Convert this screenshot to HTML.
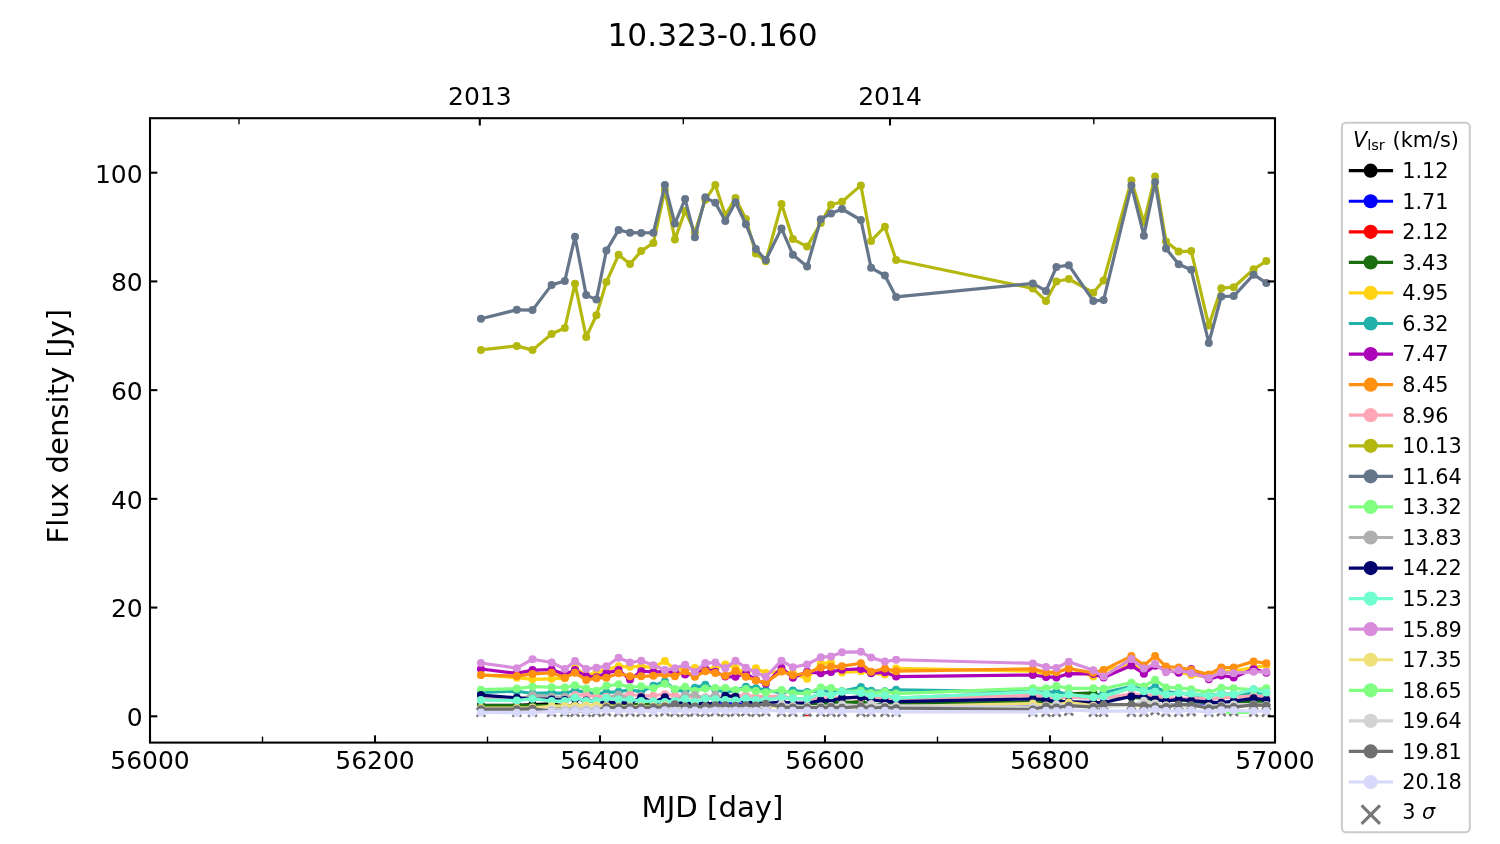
<!DOCTYPE html>
<html lang="en"><head><meta charset="utf-8"><title>10.323-0.160</title>
<style>html,body{margin:0;padding:0;background:#fff;}body{width:1500px;height:844px;overflow:hidden;}svg{display:block;}text{font-family:"DejaVu Sans","Liberation Sans",sans-serif;fill:#000;}.tk{font-size:25px;}.lb{font-size:29.17px;}.tt{font-size:31.25px;}.lg{font-size:20.83px;}</style></head><body>
<svg width="1500" height="844" viewBox="0 0 1500 844">
<rect x="0" y="0" width="1500" height="844" fill="#ffffff"/>
<defs><clipPath id="axclip"><rect x="150.0" y="118.2" width="1125.0" height="624.4"/></clipPath></defs>
<g clip-path="url(#axclip)">
<line x1="803.6" y1="715.5" x2="810.8" y2="715.5" stroke="#ff0000" stroke-width="1.3"/>
<path d="M476.65 708.00L485.25 716.60M476.65 716.60L485.25 708.00M512.50 708.00L521.10 716.60M512.50 716.60L521.10 708.00M528.20 708.00L536.80 716.60M528.20 716.60L536.80 708.00M547.30 708.00L555.90 716.60M547.30 716.60L555.90 708.00M560.50 708.00L569.10 716.60M560.50 716.60L569.10 708.00M570.70 707.96L579.30 716.56M570.70 716.56L579.30 707.96M581.90 708.00L590.50 716.60M581.90 716.60L590.50 708.00M592.10 707.96L600.70 716.56M592.10 716.56L600.70 707.96M602.10 707.42L610.70 716.02M602.10 716.02L610.70 707.42M614.30 707.96L622.90 716.56M614.30 716.56L622.90 707.96M625.70 707.69L634.30 716.29M625.70 716.29L634.30 707.69M636.90 707.96L645.50 716.56M636.90 716.56L645.50 707.96M649.10 708.00L657.70 716.60M649.10 716.60L657.70 708.00M660.60 707.42L669.20 716.02M660.60 716.02L669.20 707.42M670.60 707.96L679.20 716.56M670.60 716.56L679.20 707.96M680.80 707.96L689.40 716.56M680.80 716.56L689.40 707.96M690.60 707.69L699.20 716.29M690.60 716.29L699.20 707.69M701.00 707.96L709.60 716.56M701.00 716.56L709.60 707.96M711.00 707.53L719.60 716.13M711.00 716.13L719.60 707.53M721.00 707.96L729.60 716.56M721.00 716.56L729.60 707.96M731.20 707.69L739.80 716.29M731.20 716.29L739.80 707.69M741.60 707.53L750.20 716.13M741.60 716.13L750.20 707.53M751.60 707.96L760.20 716.56M751.60 716.56L760.20 707.96M761.50 707.53L770.10 716.13M761.50 716.13L770.10 707.53M777.20 707.96L785.80 716.56M777.20 716.56L785.80 707.96M788.60 707.96L797.20 716.56M788.60 716.56L797.20 707.96M802.80 707.69L811.40 716.29M802.80 716.29L811.40 707.69M816.50 708.00L825.10 716.60M816.50 716.60L825.10 708.00M826.70 707.96L835.30 716.56M826.70 716.56L835.30 707.96M837.70 708.00L846.30 716.60M837.70 716.60L846.30 708.00M856.60 707.96L865.20 716.56M856.60 716.56L865.20 707.96M866.80 708.00L875.40 716.60M866.80 716.60L875.40 708.00M880.60 707.96L889.20 716.56M880.60 716.56L889.20 707.96M891.80 708.00L900.40 716.60M891.80 716.60L900.40 708.00M1028.50 708.00L1037.10 716.60M1028.50 716.60L1037.10 708.00M1041.70 707.96L1050.30 716.56M1041.70 716.56L1050.30 707.96M1052.10 708.00L1060.70 716.60M1052.10 716.60L1060.70 708.00M1064.50 706.88L1073.10 715.48M1064.50 715.48L1073.10 706.88M1089.00 708.00L1097.60 716.60M1089.00 716.60L1097.60 708.00M1099.30 708.00L1107.90 716.60M1099.30 716.60L1107.90 708.00M1127.10 707.96L1135.70 716.56M1127.10 716.56L1135.70 707.96M1139.60 708.00L1148.20 716.60M1139.60 716.60L1148.20 708.00M1150.80 706.33L1159.40 714.93M1150.80 714.93L1159.40 706.33M1161.70 707.96L1170.30 716.56M1161.70 716.56L1170.30 707.96M1174.40 708.00L1183.00 716.60M1174.40 716.60L1183.00 708.00M1186.90 707.42L1195.50 716.02M1186.90 716.02L1195.50 707.42M1204.50 708.00L1213.10 716.60M1204.50 716.60L1213.10 708.00M1217.00 707.42L1225.60 716.02M1217.00 716.02L1225.60 707.42M1229.40 707.42L1238.00 716.02M1229.40 716.02L1238.00 707.42M1249.30 708.00L1257.90 716.60M1249.30 716.60L1257.90 708.00M1262.00 708.00L1270.60 716.60M1262.00 716.60L1270.60 708.00" stroke="#777777" stroke-width="2.6" fill="none" stroke-linecap="butt"/>
<g stroke="#000000" fill="#000000">
<polyline points="480.95,705.43 516.80,705.43 532.50,704.61 551.60,703.80 564.80,705.97 575.00,705.97 586.20,705.97 596.40,705.97 606.40,705.97 618.60,705.43 630.00,705.43 641.20,705.97 653.40,705.97 664.90,705.97 674.90,705.97 685.10,705.97 694.90,705.97 705.30,705.97 715.30,705.97 725.30,705.97 735.50,705.97 745.90,705.97 755.90,705.97 765.80,705.97 781.50,705.97 792.90,705.97 807.10,705.65 820.80,704.50 831.00,704.34 842.00,703.80 860.90,701.62 871.10,704.88 884.90,705.43 896.10,705.43 1032.80,705.43 1046.00,705.43 1056.40,705.43 1068.80,705.43 1093.30,705.43 1103.60,705.43 1131.40,705.43 1143.90,705.43 1155.10,705.43 1166.00,705.43 1178.70,705.43 1191.20,705.43 1208.80,705.43 1221.30,705.43 1233.70,705.43 1253.60,705.43 1266.30,705.43" fill="none" stroke-width="3.2" stroke-linejoin="round" stroke-linecap="butt"/>
<g stroke="none"><circle cx="480.95" cy="705.43" r="4.0"/><circle cx="516.80" cy="705.43" r="4.0"/><circle cx="532.50" cy="704.61" r="4.0"/><circle cx="551.60" cy="703.80" r="4.0"/><circle cx="564.80" cy="705.97" r="4.0"/><circle cx="575.00" cy="705.97" r="4.0"/><circle cx="586.20" cy="705.97" r="4.0"/><circle cx="596.40" cy="705.97" r="4.0"/><circle cx="606.40" cy="705.97" r="4.0"/><circle cx="618.60" cy="705.43" r="4.0"/><circle cx="630.00" cy="705.43" r="4.0"/><circle cx="641.20" cy="705.97" r="4.0"/><circle cx="653.40" cy="705.97" r="4.0"/><circle cx="664.90" cy="705.97" r="4.0"/><circle cx="674.90" cy="705.97" r="4.0"/><circle cx="685.10" cy="705.97" r="4.0"/><circle cx="694.90" cy="705.97" r="4.0"/><circle cx="705.30" cy="705.97" r="4.0"/><circle cx="715.30" cy="705.97" r="4.0"/><circle cx="725.30" cy="705.97" r="4.0"/><circle cx="735.50" cy="705.97" r="4.0"/><circle cx="745.90" cy="705.97" r="4.0"/><circle cx="755.90" cy="705.97" r="4.0"/><circle cx="765.80" cy="705.97" r="4.0"/><circle cx="781.50" cy="705.97" r="4.0"/><circle cx="792.90" cy="705.97" r="4.0"/><circle cx="807.10" cy="705.65" r="4.0"/><circle cx="820.80" cy="704.50" r="4.0"/><circle cx="831.00" cy="704.34" r="4.0"/><circle cx="842.00" cy="703.80" r="4.0"/><circle cx="860.90" cy="701.62" r="4.0"/><circle cx="871.10" cy="704.88" r="4.0"/><circle cx="884.90" cy="705.43" r="4.0"/><circle cx="896.10" cy="705.43" r="4.0"/><circle cx="1032.80" cy="705.43" r="4.0"/><circle cx="1046.00" cy="705.43" r="4.0"/><circle cx="1056.40" cy="705.43" r="4.0"/><circle cx="1068.80" cy="705.43" r="4.0"/><circle cx="1093.30" cy="705.43" r="4.0"/><circle cx="1103.60" cy="705.43" r="4.0"/><circle cx="1131.40" cy="705.43" r="4.0"/><circle cx="1143.90" cy="705.43" r="4.0"/><circle cx="1155.10" cy="705.43" r="4.0"/><circle cx="1166.00" cy="705.43" r="4.0"/><circle cx="1178.70" cy="705.43" r="4.0"/><circle cx="1191.20" cy="705.43" r="4.0"/><circle cx="1208.80" cy="705.43" r="4.0"/><circle cx="1221.30" cy="705.43" r="4.0"/><circle cx="1233.70" cy="705.43" r="4.0"/><circle cx="1253.60" cy="705.43" r="4.0"/><circle cx="1266.30" cy="705.43" r="4.0"/></g>
</g>
<g stroke="#0000ff" fill="#0000ff">
<polyline points="480.95,706.52 516.80,706.52 532.50,706.52 551.60,706.52 564.80,706.52 575.00,706.52 586.20,706.52 596.40,706.52 606.40,706.52 618.60,705.43 630.00,705.43 641.20,704.88 653.40,705.43 664.90,704.88 674.90,705.43 685.10,705.43 694.90,705.43 705.30,704.34 715.30,703.80 725.30,703.80 735.50,703.80 745.90,704.34 755.90,705.43 765.80,705.43 781.50,705.43 792.90,705.43 807.10,705.43 820.80,705.43 831.00,705.43 842.00,705.43 860.90,705.43 871.10,705.43 884.90,705.43 896.10,705.43 1032.80,705.43 1046.00,705.43 1056.40,705.43 1068.80,705.43 1093.30,705.43 1103.60,705.43 1131.40,705.43 1143.90,705.43 1155.10,705.43 1166.00,705.43 1178.70,705.43 1191.20,705.43 1208.80,705.43 1221.30,705.43 1233.70,705.43 1253.60,705.43 1266.30,705.43" fill="none" stroke-width="3.2" stroke-linejoin="round" stroke-linecap="butt"/>
<g stroke="none"><circle cx="480.95" cy="706.52" r="4.0"/><circle cx="516.80" cy="706.52" r="4.0"/><circle cx="532.50" cy="706.52" r="4.0"/><circle cx="551.60" cy="706.52" r="4.0"/><circle cx="564.80" cy="706.52" r="4.0"/><circle cx="575.00" cy="706.52" r="4.0"/><circle cx="586.20" cy="706.52" r="4.0"/><circle cx="596.40" cy="706.52" r="4.0"/><circle cx="606.40" cy="706.52" r="4.0"/><circle cx="618.60" cy="705.43" r="4.0"/><circle cx="630.00" cy="705.43" r="4.0"/><circle cx="641.20" cy="704.88" r="4.0"/><circle cx="653.40" cy="705.43" r="4.0"/><circle cx="664.90" cy="704.88" r="4.0"/><circle cx="674.90" cy="705.43" r="4.0"/><circle cx="685.10" cy="705.43" r="4.0"/><circle cx="694.90" cy="705.43" r="4.0"/><circle cx="705.30" cy="704.34" r="4.0"/><circle cx="715.30" cy="703.80" r="4.0"/><circle cx="725.30" cy="703.80" r="4.0"/><circle cx="735.50" cy="703.80" r="4.0"/><circle cx="745.90" cy="704.34" r="4.0"/><circle cx="755.90" cy="705.43" r="4.0"/><circle cx="765.80" cy="705.43" r="4.0"/><circle cx="781.50" cy="705.43" r="4.0"/><circle cx="792.90" cy="705.43" r="4.0"/><circle cx="807.10" cy="705.43" r="4.0"/><circle cx="820.80" cy="705.43" r="4.0"/><circle cx="831.00" cy="705.43" r="4.0"/><circle cx="842.00" cy="705.43" r="4.0"/><circle cx="860.90" cy="705.43" r="4.0"/><circle cx="871.10" cy="705.43" r="4.0"/><circle cx="884.90" cy="705.43" r="4.0"/><circle cx="896.10" cy="705.43" r="4.0"/><circle cx="1032.80" cy="705.43" r="4.0"/><circle cx="1046.00" cy="705.43" r="4.0"/><circle cx="1056.40" cy="705.43" r="4.0"/><circle cx="1068.80" cy="705.43" r="4.0"/><circle cx="1093.30" cy="705.43" r="4.0"/><circle cx="1103.60" cy="705.43" r="4.0"/><circle cx="1131.40" cy="705.43" r="4.0"/><circle cx="1143.90" cy="705.43" r="4.0"/><circle cx="1155.10" cy="705.43" r="4.0"/><circle cx="1166.00" cy="705.43" r="4.0"/><circle cx="1178.70" cy="705.43" r="4.0"/><circle cx="1191.20" cy="705.43" r="4.0"/><circle cx="1208.80" cy="705.43" r="4.0"/><circle cx="1221.30" cy="705.43" r="4.0"/><circle cx="1233.70" cy="705.43" r="4.0"/><circle cx="1253.60" cy="705.43" r="4.0"/><circle cx="1266.30" cy="705.43" r="4.0"/></g>
</g>
<g stroke="#1a6e10" fill="#1a6e10">
<polyline points="480.95,705.59 516.80,705.59 532.50,705.70 551.60,705.70 564.80,705.97 575.00,705.43 586.20,705.70 596.40,705.97 606.40,704.34 618.60,704.34 630.00,704.61 641.20,704.34 653.40,704.61 664.90,705.97 674.90,705.97 685.10,705.97 694.90,705.97 705.30,705.97 715.30,705.97 725.30,705.97 735.50,705.97 745.90,705.97 755.90,705.97 765.80,705.43 781.50,704.34 792.90,705.43 807.10,705.43 820.80,704.34 831.00,702.71 842.00,702.38 860.90,702.17 871.10,704.34 884.90,704.50 896.10,703.80 1032.80,702.17 1046.00,702.17 1056.40,701.62 1068.80,693.74 1093.30,692.93 1103.60,696.73 1131.40,697.27 1143.90,698.36 1155.10,699.99 1166.00,700.54 1178.70,699.99 1191.20,701.08 1208.80,702.71 1221.30,703.25 1233.70,702.17 1253.60,701.08 1266.30,701.08" fill="none" stroke-width="3.2" stroke-linejoin="round" stroke-linecap="butt"/>
<g stroke="none"><circle cx="480.95" cy="705.59" r="4.0"/><circle cx="516.80" cy="705.59" r="4.0"/><circle cx="532.50" cy="705.70" r="4.0"/><circle cx="551.60" cy="705.70" r="4.0"/><circle cx="564.80" cy="705.97" r="4.0"/><circle cx="575.00" cy="705.43" r="4.0"/><circle cx="586.20" cy="705.70" r="4.0"/><circle cx="596.40" cy="705.97" r="4.0"/><circle cx="606.40" cy="704.34" r="4.0"/><circle cx="618.60" cy="704.34" r="4.0"/><circle cx="630.00" cy="704.61" r="4.0"/><circle cx="641.20" cy="704.34" r="4.0"/><circle cx="653.40" cy="704.61" r="4.0"/><circle cx="664.90" cy="705.97" r="4.0"/><circle cx="674.90" cy="705.97" r="4.0"/><circle cx="685.10" cy="705.97" r="4.0"/><circle cx="694.90" cy="705.97" r="4.0"/><circle cx="705.30" cy="705.97" r="4.0"/><circle cx="715.30" cy="705.97" r="4.0"/><circle cx="725.30" cy="705.97" r="4.0"/><circle cx="735.50" cy="705.97" r="4.0"/><circle cx="745.90" cy="705.97" r="4.0"/><circle cx="755.90" cy="705.97" r="4.0"/><circle cx="765.80" cy="705.43" r="4.0"/><circle cx="781.50" cy="704.34" r="4.0"/><circle cx="792.90" cy="705.43" r="4.0"/><circle cx="807.10" cy="705.43" r="4.0"/><circle cx="820.80" cy="704.34" r="4.0"/><circle cx="831.00" cy="702.71" r="4.0"/><circle cx="842.00" cy="702.38" r="4.0"/><circle cx="860.90" cy="702.17" r="4.0"/><circle cx="871.10" cy="704.34" r="4.0"/><circle cx="884.90" cy="704.50" r="4.0"/><circle cx="896.10" cy="703.80" r="4.0"/><circle cx="1032.80" cy="702.17" r="4.0"/><circle cx="1046.00" cy="702.17" r="4.0"/><circle cx="1056.40" cy="701.62" r="4.0"/><circle cx="1068.80" cy="693.74" r="4.0"/><circle cx="1093.30" cy="692.93" r="4.0"/><circle cx="1103.60" cy="696.73" r="4.0"/><circle cx="1131.40" cy="697.27" r="4.0"/><circle cx="1143.90" cy="698.36" r="4.0"/><circle cx="1155.10" cy="699.99" r="4.0"/><circle cx="1166.00" cy="700.54" r="4.0"/><circle cx="1178.70" cy="699.99" r="4.0"/><circle cx="1191.20" cy="701.08" r="4.0"/><circle cx="1208.80" cy="702.71" r="4.0"/><circle cx="1221.30" cy="703.25" r="4.0"/><circle cx="1233.70" cy="702.17" r="4.0"/><circle cx="1253.60" cy="701.08" r="4.0"/><circle cx="1266.30" cy="701.08" r="4.0"/></g>
</g>
<g stroke="#ffd314" fill="#ffd314">
<polyline points="480.95,674.99 516.80,677.70 532.50,679.34 551.60,678.79 564.80,678.25 575.00,667.92 586.20,675.53 596.40,672.54 606.40,669.55 618.60,666.29 630.00,666.83 641.20,666.29 653.40,667.38 664.90,661.12 674.90,669.55 685.10,668.46 694.90,667.92 705.30,669.01 715.30,668.19 725.30,664.44 735.50,667.76 745.90,673.36 755.90,668.19 765.80,672.98 781.50,671.18 792.90,673.36 807.10,678.63 820.80,663.57 831.00,662.54 842.00,672.38 860.90,671.29 871.10,672.81 884.90,674.61 896.10,668.46 1032.80,671.18 1046.00,673.36 1056.40,672.81 1068.80,667.92 1093.30,676.51 1103.60,670.09 1131.40,664.66 1143.90,670.09 1155.10,664.66 1166.00,670.09 1178.70,671.72 1191.20,675.10 1208.80,676.62 1221.30,671.18 1233.70,671.18 1253.60,667.48 1266.30,665.58" fill="none" stroke-width="3.2" stroke-linejoin="round" stroke-linecap="butt"/>
<g stroke="none"><circle cx="480.95" cy="674.99" r="4.0"/><circle cx="516.80" cy="677.70" r="4.0"/><circle cx="532.50" cy="679.34" r="4.0"/><circle cx="551.60" cy="678.79" r="4.0"/><circle cx="564.80" cy="678.25" r="4.0"/><circle cx="575.00" cy="667.92" r="4.0"/><circle cx="586.20" cy="675.53" r="4.0"/><circle cx="596.40" cy="672.54" r="4.0"/><circle cx="606.40" cy="669.55" r="4.0"/><circle cx="618.60" cy="666.29" r="4.0"/><circle cx="630.00" cy="666.83" r="4.0"/><circle cx="641.20" cy="666.29" r="4.0"/><circle cx="653.40" cy="667.38" r="4.0"/><circle cx="664.90" cy="661.12" r="4.0"/><circle cx="674.90" cy="669.55" r="4.0"/><circle cx="685.10" cy="668.46" r="4.0"/><circle cx="694.90" cy="667.92" r="4.0"/><circle cx="705.30" cy="669.01" r="4.0"/><circle cx="715.30" cy="668.19" r="4.0"/><circle cx="725.30" cy="664.44" r="4.0"/><circle cx="735.50" cy="667.76" r="4.0"/><circle cx="745.90" cy="673.36" r="4.0"/><circle cx="755.90" cy="668.19" r="4.0"/><circle cx="765.80" cy="672.98" r="4.0"/><circle cx="781.50" cy="671.18" r="4.0"/><circle cx="792.90" cy="673.36" r="4.0"/><circle cx="807.10" cy="678.63" r="4.0"/><circle cx="820.80" cy="663.57" r="4.0"/><circle cx="831.00" cy="662.54" r="4.0"/><circle cx="842.00" cy="672.38" r="4.0"/><circle cx="860.90" cy="671.29" r="4.0"/><circle cx="871.10" cy="672.81" r="4.0"/><circle cx="884.90" cy="674.61" r="4.0"/><circle cx="896.10" cy="668.46" r="4.0"/><circle cx="1032.80" cy="671.18" r="4.0"/><circle cx="1046.00" cy="673.36" r="4.0"/><circle cx="1056.40" cy="672.81" r="4.0"/><circle cx="1068.80" cy="667.92" r="4.0"/><circle cx="1093.30" cy="676.51" r="4.0"/><circle cx="1103.60" cy="670.09" r="4.0"/><circle cx="1131.40" cy="664.66" r="4.0"/><circle cx="1143.90" cy="670.09" r="4.0"/><circle cx="1155.10" cy="664.66" r="4.0"/><circle cx="1166.00" cy="670.09" r="4.0"/><circle cx="1178.70" cy="671.72" r="4.0"/><circle cx="1191.20" cy="675.10" r="4.0"/><circle cx="1208.80" cy="676.62" r="4.0"/><circle cx="1221.30" cy="671.18" r="4.0"/><circle cx="1233.70" cy="671.18" r="4.0"/><circle cx="1253.60" cy="667.48" r="4.0"/><circle cx="1266.30" cy="665.58" r="4.0"/></g>
</g>
<g stroke="#20b2aa" fill="#20b2aa">
<polyline points="480.95,692.38 516.80,691.29 532.50,693.47 551.60,692.93 564.80,693.47 575.00,690.21 586.20,692.38 596.40,694.01 606.40,692.38 618.60,691.84 630.00,689.66 641.20,691.84 653.40,685.86 664.90,681.51 674.90,689.66 685.10,691.46 694.90,687.65 705.30,684.77 715.30,689.66 725.30,691.84 735.50,690.75 745.90,686.73 755.90,688.14 765.80,690.21 781.50,692.93 792.90,690.48 807.10,691.95 820.80,690.75 831.00,691.29 842.00,691.29 860.90,686.95 871.10,690.75 884.90,691.29 896.10,689.77 1032.80,691.84 1046.00,692.38 1056.40,691.67 1068.80,694.56 1093.30,697.27 1103.60,692.60 1131.40,686.46 1143.90,689.66 1155.10,686.95 1166.00,691.84 1178.70,692.93 1191.20,694.56 1208.80,695.64 1221.30,693.47 1233.70,694.56 1253.60,692.93 1266.30,692.93" fill="none" stroke-width="3.2" stroke-linejoin="round" stroke-linecap="butt"/>
<g stroke="none"><circle cx="480.95" cy="692.38" r="4.0"/><circle cx="516.80" cy="691.29" r="4.0"/><circle cx="532.50" cy="693.47" r="4.0"/><circle cx="551.60" cy="692.93" r="4.0"/><circle cx="564.80" cy="693.47" r="4.0"/><circle cx="575.00" cy="690.21" r="4.0"/><circle cx="586.20" cy="692.38" r="4.0"/><circle cx="596.40" cy="694.01" r="4.0"/><circle cx="606.40" cy="692.38" r="4.0"/><circle cx="618.60" cy="691.84" r="4.0"/><circle cx="630.00" cy="689.66" r="4.0"/><circle cx="641.20" cy="691.84" r="4.0"/><circle cx="653.40" cy="685.86" r="4.0"/><circle cx="664.90" cy="681.51" r="4.0"/><circle cx="674.90" cy="689.66" r="4.0"/><circle cx="685.10" cy="691.46" r="4.0"/><circle cx="694.90" cy="687.65" r="4.0"/><circle cx="705.30" cy="684.77" r="4.0"/><circle cx="715.30" cy="689.66" r="4.0"/><circle cx="725.30" cy="691.84" r="4.0"/><circle cx="735.50" cy="690.75" r="4.0"/><circle cx="745.90" cy="686.73" r="4.0"/><circle cx="755.90" cy="688.14" r="4.0"/><circle cx="765.80" cy="690.21" r="4.0"/><circle cx="781.50" cy="692.93" r="4.0"/><circle cx="792.90" cy="690.48" r="4.0"/><circle cx="807.10" cy="691.95" r="4.0"/><circle cx="820.80" cy="690.75" r="4.0"/><circle cx="831.00" cy="691.29" r="4.0"/><circle cx="842.00" cy="691.29" r="4.0"/><circle cx="860.90" cy="686.95" r="4.0"/><circle cx="871.10" cy="690.75" r="4.0"/><circle cx="884.90" cy="691.29" r="4.0"/><circle cx="896.10" cy="689.77" r="4.0"/><circle cx="1032.80" cy="691.84" r="4.0"/><circle cx="1046.00" cy="692.38" r="4.0"/><circle cx="1056.40" cy="691.67" r="4.0"/><circle cx="1068.80" cy="694.56" r="4.0"/><circle cx="1093.30" cy="697.27" r="4.0"/><circle cx="1103.60" cy="692.60" r="4.0"/><circle cx="1131.40" cy="686.46" r="4.0"/><circle cx="1143.90" cy="689.66" r="4.0"/><circle cx="1155.10" cy="686.95" r="4.0"/><circle cx="1166.00" cy="691.84" r="4.0"/><circle cx="1178.70" cy="692.93" r="4.0"/><circle cx="1191.20" cy="694.56" r="4.0"/><circle cx="1208.80" cy="695.64" r="4.0"/><circle cx="1221.30" cy="693.47" r="4.0"/><circle cx="1233.70" cy="694.56" r="4.0"/><circle cx="1253.60" cy="692.93" r="4.0"/><circle cx="1266.30" cy="692.93" r="4.0"/></g>
</g>
<g stroke="#ad03b8" fill="#ad03b8">
<polyline points="480.95,669.01 516.80,673.36 532.50,670.09 551.60,669.55 564.80,674.44 575.00,670.09 586.20,676.07 596.40,677.16 606.40,672.98 618.60,670.09 630.00,679.61 641.20,671.18 653.40,672.00 664.90,671.72 674.90,672.00 685.10,674.44 694.90,674.99 705.30,669.01 715.30,671.72 725.30,676.62 735.50,676.78 745.90,673.46 755.90,679.88 765.80,683.85 781.50,667.76 792.90,677.70 807.10,671.72 820.80,673.36 831.00,671.89 842.00,669.77 860.90,668.90 871.10,673.36 884.90,672.27 896.10,676.62 1032.80,674.99 1046.00,676.94 1056.40,677.43 1068.80,673.63 1093.30,673.90 1103.60,677.43 1131.40,665.58 1143.90,673.63 1155.10,665.75 1166.00,670.09 1178.70,672.81 1191.20,668.90 1208.80,679.34 1221.30,675.53 1233.70,677.43 1253.60,668.90 1266.30,672.81" fill="none" stroke-width="3.2" stroke-linejoin="round" stroke-linecap="butt"/>
<g stroke="none"><circle cx="480.95" cy="669.01" r="4.0"/><circle cx="516.80" cy="673.36" r="4.0"/><circle cx="532.50" cy="670.09" r="4.0"/><circle cx="551.60" cy="669.55" r="4.0"/><circle cx="564.80" cy="674.44" r="4.0"/><circle cx="575.00" cy="670.09" r="4.0"/><circle cx="586.20" cy="676.07" r="4.0"/><circle cx="596.40" cy="677.16" r="4.0"/><circle cx="606.40" cy="672.98" r="4.0"/><circle cx="618.60" cy="670.09" r="4.0"/><circle cx="630.00" cy="679.61" r="4.0"/><circle cx="641.20" cy="671.18" r="4.0"/><circle cx="653.40" cy="672.00" r="4.0"/><circle cx="664.90" cy="671.72" r="4.0"/><circle cx="674.90" cy="672.00" r="4.0"/><circle cx="685.10" cy="674.44" r="4.0"/><circle cx="694.90" cy="674.99" r="4.0"/><circle cx="705.30" cy="669.01" r="4.0"/><circle cx="715.30" cy="671.72" r="4.0"/><circle cx="725.30" cy="676.62" r="4.0"/><circle cx="735.50" cy="676.78" r="4.0"/><circle cx="745.90" cy="673.46" r="4.0"/><circle cx="755.90" cy="679.88" r="4.0"/><circle cx="765.80" cy="683.85" r="4.0"/><circle cx="781.50" cy="667.76" r="4.0"/><circle cx="792.90" cy="677.70" r="4.0"/><circle cx="807.10" cy="671.72" r="4.0"/><circle cx="820.80" cy="673.36" r="4.0"/><circle cx="831.00" cy="671.89" r="4.0"/><circle cx="842.00" cy="669.77" r="4.0"/><circle cx="860.90" cy="668.90" r="4.0"/><circle cx="871.10" cy="673.36" r="4.0"/><circle cx="884.90" cy="672.27" r="4.0"/><circle cx="896.10" cy="676.62" r="4.0"/><circle cx="1032.80" cy="674.99" r="4.0"/><circle cx="1046.00" cy="676.94" r="4.0"/><circle cx="1056.40" cy="677.43" r="4.0"/><circle cx="1068.80" cy="673.63" r="4.0"/><circle cx="1093.30" cy="673.90" r="4.0"/><circle cx="1103.60" cy="677.43" r="4.0"/><circle cx="1131.40" cy="665.58" r="4.0"/><circle cx="1143.90" cy="673.63" r="4.0"/><circle cx="1155.10" cy="665.75" r="4.0"/><circle cx="1166.00" cy="670.09" r="4.0"/><circle cx="1178.70" cy="672.81" r="4.0"/><circle cx="1191.20" cy="668.90" r="4.0"/><circle cx="1208.80" cy="679.34" r="4.0"/><circle cx="1221.30" cy="675.53" r="4.0"/><circle cx="1233.70" cy="677.43" r="4.0"/><circle cx="1253.60" cy="668.90" r="4.0"/><circle cx="1266.30" cy="672.81" r="4.0"/></g>
</g>
<g stroke="#ff9010" fill="#ff9010">
<polyline points="480.95,674.99 516.80,676.07 532.50,673.90 551.60,672.81 564.80,677.70 575.00,672.81 586.20,679.88 596.40,678.25 606.40,677.70 618.60,673.36 630.00,676.29 641.20,676.29 653.40,675.80 664.90,674.44 674.90,676.29 685.10,671.18 694.90,676.78 705.30,671.18 715.30,672.98 725.30,675.80 735.50,671.07 745.90,676.78 755.90,680.53 765.80,682.43 781.50,671.56 792.90,675.31 807.10,672.98 820.80,667.38 831.00,666.83 842.00,666.18 860.90,663.24 871.10,671.78 884.90,668.46 896.10,671.18 1032.80,668.90 1046.00,672.27 1056.40,672.27 1068.80,668.46 1093.30,672.81 1103.60,669.88 1131.40,656.12 1143.90,665.58 1155.10,655.96 1166.00,666.56 1178.70,667.48 1191.20,669.82 1208.80,674.61 1221.30,667.48 1233.70,667.48 1253.60,661.40 1266.30,663.24" fill="none" stroke-width="3.2" stroke-linejoin="round" stroke-linecap="butt"/>
<g stroke="none"><circle cx="480.95" cy="674.99" r="4.0"/><circle cx="516.80" cy="676.07" r="4.0"/><circle cx="532.50" cy="673.90" r="4.0"/><circle cx="551.60" cy="672.81" r="4.0"/><circle cx="564.80" cy="677.70" r="4.0"/><circle cx="575.00" cy="672.81" r="4.0"/><circle cx="586.20" cy="679.88" r="4.0"/><circle cx="596.40" cy="678.25" r="4.0"/><circle cx="606.40" cy="677.70" r="4.0"/><circle cx="618.60" cy="673.36" r="4.0"/><circle cx="630.00" cy="676.29" r="4.0"/><circle cx="641.20" cy="676.29" r="4.0"/><circle cx="653.40" cy="675.80" r="4.0"/><circle cx="664.90" cy="674.44" r="4.0"/><circle cx="674.90" cy="676.29" r="4.0"/><circle cx="685.10" cy="671.18" r="4.0"/><circle cx="694.90" cy="676.78" r="4.0"/><circle cx="705.30" cy="671.18" r="4.0"/><circle cx="715.30" cy="672.98" r="4.0"/><circle cx="725.30" cy="675.80" r="4.0"/><circle cx="735.50" cy="671.07" r="4.0"/><circle cx="745.90" cy="676.78" r="4.0"/><circle cx="755.90" cy="680.53" r="4.0"/><circle cx="765.80" cy="682.43" r="4.0"/><circle cx="781.50" cy="671.56" r="4.0"/><circle cx="792.90" cy="675.31" r="4.0"/><circle cx="807.10" cy="672.98" r="4.0"/><circle cx="820.80" cy="667.38" r="4.0"/><circle cx="831.00" cy="666.83" r="4.0"/><circle cx="842.00" cy="666.18" r="4.0"/><circle cx="860.90" cy="663.24" r="4.0"/><circle cx="871.10" cy="671.78" r="4.0"/><circle cx="884.90" cy="668.46" r="4.0"/><circle cx="896.10" cy="671.18" r="4.0"/><circle cx="1032.80" cy="668.90" r="4.0"/><circle cx="1046.00" cy="672.27" r="4.0"/><circle cx="1056.40" cy="672.27" r="4.0"/><circle cx="1068.80" cy="668.46" r="4.0"/><circle cx="1093.30" cy="672.81" r="4.0"/><circle cx="1103.60" cy="669.88" r="4.0"/><circle cx="1131.40" cy="656.12" r="4.0"/><circle cx="1143.90" cy="665.58" r="4.0"/><circle cx="1155.10" cy="655.96" r="4.0"/><circle cx="1166.00" cy="666.56" r="4.0"/><circle cx="1178.70" cy="667.48" r="4.0"/><circle cx="1191.20" cy="669.82" r="4.0"/><circle cx="1208.80" cy="674.61" r="4.0"/><circle cx="1221.30" cy="667.48" r="4.0"/><circle cx="1233.70" cy="667.48" r="4.0"/><circle cx="1253.60" cy="661.40" r="4.0"/><circle cx="1266.30" cy="663.24" r="4.0"/></g>
</g>
<g stroke="#ffa6b6" fill="#ffa6b6">
<polyline points="480.95,697.82 516.80,698.36 532.50,697.27 551.60,697.82 564.80,697.27 575.00,695.10 586.20,695.10 596.40,696.73 606.40,696.73 618.60,696.19 630.00,694.28 641.20,696.19 653.40,695.70 664.90,694.28 674.90,695.70 685.10,696.73 694.90,696.73 705.30,697.27 715.30,697.27 725.30,696.73 735.50,695.64 745.90,695.26 755.90,696.68 765.80,696.68 781.50,696.19 792.90,698.36 807.10,698.90 820.80,698.36 831.00,697.82 842.00,697.82 860.90,697.82 871.10,698.36 884.90,698.36 896.10,698.90 1032.80,695.37 1046.00,696.73 1056.40,697.82 1068.80,697.27 1093.30,698.36 1103.60,697.82 1131.40,694.01 1143.90,695.10 1155.10,695.10 1166.00,697.82 1178.70,698.36 1191.20,698.36 1208.80,698.90 1221.30,697.82 1233.70,697.27 1253.60,695.91 1266.30,696.73" fill="none" stroke-width="3.2" stroke-linejoin="round" stroke-linecap="butt"/>
<g stroke="none"><circle cx="480.95" cy="697.82" r="4.0"/><circle cx="516.80" cy="698.36" r="4.0"/><circle cx="532.50" cy="697.27" r="4.0"/><circle cx="551.60" cy="697.82" r="4.0"/><circle cx="564.80" cy="697.27" r="4.0"/><circle cx="575.00" cy="695.10" r="4.0"/><circle cx="586.20" cy="695.10" r="4.0"/><circle cx="596.40" cy="696.73" r="4.0"/><circle cx="606.40" cy="696.73" r="4.0"/><circle cx="618.60" cy="696.19" r="4.0"/><circle cx="630.00" cy="694.28" r="4.0"/><circle cx="641.20" cy="696.19" r="4.0"/><circle cx="653.40" cy="695.70" r="4.0"/><circle cx="664.90" cy="694.28" r="4.0"/><circle cx="674.90" cy="695.70" r="4.0"/><circle cx="685.10" cy="696.73" r="4.0"/><circle cx="694.90" cy="696.73" r="4.0"/><circle cx="705.30" cy="697.27" r="4.0"/><circle cx="715.30" cy="697.27" r="4.0"/><circle cx="725.30" cy="696.73" r="4.0"/><circle cx="735.50" cy="695.64" r="4.0"/><circle cx="745.90" cy="695.26" r="4.0"/><circle cx="755.90" cy="696.68" r="4.0"/><circle cx="765.80" cy="696.68" r="4.0"/><circle cx="781.50" cy="696.19" r="4.0"/><circle cx="792.90" cy="698.36" r="4.0"/><circle cx="807.10" cy="698.90" r="4.0"/><circle cx="820.80" cy="698.36" r="4.0"/><circle cx="831.00" cy="697.82" r="4.0"/><circle cx="842.00" cy="697.82" r="4.0"/><circle cx="860.90" cy="697.82" r="4.0"/><circle cx="871.10" cy="698.36" r="4.0"/><circle cx="884.90" cy="698.36" r="4.0"/><circle cx="896.10" cy="698.90" r="4.0"/><circle cx="1032.80" cy="695.37" r="4.0"/><circle cx="1046.00" cy="696.73" r="4.0"/><circle cx="1056.40" cy="697.82" r="4.0"/><circle cx="1068.80" cy="697.27" r="4.0"/><circle cx="1093.30" cy="698.36" r="4.0"/><circle cx="1103.60" cy="697.82" r="4.0"/><circle cx="1131.40" cy="694.01" r="4.0"/><circle cx="1143.90" cy="695.10" r="4.0"/><circle cx="1155.10" cy="695.10" r="4.0"/><circle cx="1166.00" cy="697.82" r="4.0"/><circle cx="1178.70" cy="698.36" r="4.0"/><circle cx="1191.20" cy="698.36" r="4.0"/><circle cx="1208.80" cy="698.90" r="4.0"/><circle cx="1221.30" cy="697.82" r="4.0"/><circle cx="1233.70" cy="697.27" r="4.0"/><circle cx="1253.60" cy="695.91" r="4.0"/><circle cx="1266.30" cy="696.73" r="4.0"/></g>
</g>
<g stroke="#b4b80e" fill="#b4b80e">
<polyline points="480.95,349.90 516.80,345.90 532.50,350.10 551.60,334.00 564.80,328.00 575.00,283.70 586.20,337.00 596.40,315.30 606.40,282.00 618.60,254.80 630.00,264.00 641.20,251.10 653.40,242.90 664.90,190.00 674.90,239.40 685.10,211.00 694.90,232.20 705.30,199.80 715.30,184.90 725.30,215.30 735.50,198.10 745.90,219.00 755.90,253.60 765.80,261.30 781.50,204.10 792.90,239.10 807.10,246.60 820.80,223.00 831.00,204.80 842.00,201.80 860.90,185.40 871.10,240.90 884.90,226.70 896.10,260.00 1032.80,288.40 1046.00,300.90 1056.40,281.50 1068.80,279.00 1093.30,292.70 1103.60,280.50 1131.40,180.40 1143.90,222.50 1155.10,176.40 1166.00,241.40 1178.70,251.60 1191.20,251.10 1208.80,325.50 1221.30,288.20 1233.70,287.20 1253.60,269.30 1266.30,261.00" fill="none" stroke-width="3.2" stroke-linejoin="round" stroke-linecap="butt"/>
<g stroke="none"><circle cx="480.95" cy="349.90" r="4.0"/><circle cx="516.80" cy="345.90" r="4.0"/><circle cx="532.50" cy="350.10" r="4.0"/><circle cx="551.60" cy="334.00" r="4.0"/><circle cx="564.80" cy="328.00" r="4.0"/><circle cx="575.00" cy="283.70" r="4.0"/><circle cx="586.20" cy="337.00" r="4.0"/><circle cx="596.40" cy="315.30" r="4.0"/><circle cx="606.40" cy="282.00" r="4.0"/><circle cx="618.60" cy="254.80" r="4.0"/><circle cx="630.00" cy="264.00" r="4.0"/><circle cx="641.20" cy="251.10" r="4.0"/><circle cx="653.40" cy="242.90" r="4.0"/><circle cx="664.90" cy="190.00" r="4.0"/><circle cx="674.90" cy="239.40" r="4.0"/><circle cx="685.10" cy="211.00" r="4.0"/><circle cx="694.90" cy="232.20" r="4.0"/><circle cx="705.30" cy="199.80" r="4.0"/><circle cx="715.30" cy="184.90" r="4.0"/><circle cx="725.30" cy="215.30" r="4.0"/><circle cx="735.50" cy="198.10" r="4.0"/><circle cx="745.90" cy="219.00" r="4.0"/><circle cx="755.90" cy="253.60" r="4.0"/><circle cx="765.80" cy="261.30" r="4.0"/><circle cx="781.50" cy="204.10" r="4.0"/><circle cx="792.90" cy="239.10" r="4.0"/><circle cx="807.10" cy="246.60" r="4.0"/><circle cx="820.80" cy="223.00" r="4.0"/><circle cx="831.00" cy="204.80" r="4.0"/><circle cx="842.00" cy="201.80" r="4.0"/><circle cx="860.90" cy="185.40" r="4.0"/><circle cx="871.10" cy="240.90" r="4.0"/><circle cx="884.90" cy="226.70" r="4.0"/><circle cx="896.10" cy="260.00" r="4.0"/><circle cx="1032.80" cy="288.40" r="4.0"/><circle cx="1046.00" cy="300.90" r="4.0"/><circle cx="1056.40" cy="281.50" r="4.0"/><circle cx="1068.80" cy="279.00" r="4.0"/><circle cx="1093.30" cy="292.70" r="4.0"/><circle cx="1103.60" cy="280.50" r="4.0"/><circle cx="1131.40" cy="180.40" r="4.0"/><circle cx="1143.90" cy="222.50" r="4.0"/><circle cx="1155.10" cy="176.40" r="4.0"/><circle cx="1166.00" cy="241.40" r="4.0"/><circle cx="1178.70" cy="251.60" r="4.0"/><circle cx="1191.20" cy="251.10" r="4.0"/><circle cx="1208.80" cy="325.50" r="4.0"/><circle cx="1221.30" cy="288.20" r="4.0"/><circle cx="1233.70" cy="287.20" r="4.0"/><circle cx="1253.60" cy="269.30" r="4.0"/><circle cx="1266.30" cy="261.00" r="4.0"/></g>
</g>
<g stroke="#65758a" fill="#65758a">
<polyline points="480.95,318.80 516.80,309.80 532.50,310.10 551.60,284.90 564.80,281.00 575.00,236.70 586.20,295.10 596.40,299.60 606.40,250.60 618.60,229.90 630.00,232.70 641.20,232.90 653.40,232.70 664.90,185.10 674.90,223.50 685.10,199.10 694.90,237.20 705.30,197.30 715.30,202.80 725.30,221.00 735.50,202.30 745.90,224.20 755.90,248.90 765.80,260.10 781.50,228.40 792.90,254.80 807.10,266.50 820.80,219.20 831.00,213.50 842.00,209.00 860.90,220.00 871.10,267.80 884.90,275.50 896.10,296.90 1032.80,283.40 1046.00,290.90 1056.40,267.00 1068.80,265.20 1093.30,300.90 1103.60,300.10 1131.40,185.60 1143.90,235.70 1155.10,181.90 1166.00,248.60 1178.70,264.30 1191.20,269.80 1208.80,342.90 1221.30,296.40 1233.70,296.10 1253.60,274.70 1266.30,282.90" fill="none" stroke-width="3.2" stroke-linejoin="round" stroke-linecap="butt"/>
<g stroke="none"><circle cx="480.95" cy="318.80" r="4.0"/><circle cx="516.80" cy="309.80" r="4.0"/><circle cx="532.50" cy="310.10" r="4.0"/><circle cx="551.60" cy="284.90" r="4.0"/><circle cx="564.80" cy="281.00" r="4.0"/><circle cx="575.00" cy="236.70" r="4.0"/><circle cx="586.20" cy="295.10" r="4.0"/><circle cx="596.40" cy="299.60" r="4.0"/><circle cx="606.40" cy="250.60" r="4.0"/><circle cx="618.60" cy="229.90" r="4.0"/><circle cx="630.00" cy="232.70" r="4.0"/><circle cx="641.20" cy="232.90" r="4.0"/><circle cx="653.40" cy="232.70" r="4.0"/><circle cx="664.90" cy="185.10" r="4.0"/><circle cx="674.90" cy="223.50" r="4.0"/><circle cx="685.10" cy="199.10" r="4.0"/><circle cx="694.90" cy="237.20" r="4.0"/><circle cx="705.30" cy="197.30" r="4.0"/><circle cx="715.30" cy="202.80" r="4.0"/><circle cx="725.30" cy="221.00" r="4.0"/><circle cx="735.50" cy="202.30" r="4.0"/><circle cx="745.90" cy="224.20" r="4.0"/><circle cx="755.90" cy="248.90" r="4.0"/><circle cx="765.80" cy="260.10" r="4.0"/><circle cx="781.50" cy="228.40" r="4.0"/><circle cx="792.90" cy="254.80" r="4.0"/><circle cx="807.10" cy="266.50" r="4.0"/><circle cx="820.80" cy="219.20" r="4.0"/><circle cx="831.00" cy="213.50" r="4.0"/><circle cx="842.00" cy="209.00" r="4.0"/><circle cx="860.90" cy="220.00" r="4.0"/><circle cx="871.10" cy="267.80" r="4.0"/><circle cx="884.90" cy="275.50" r="4.0"/><circle cx="896.10" cy="296.90" r="4.0"/><circle cx="1032.80" cy="283.40" r="4.0"/><circle cx="1046.00" cy="290.90" r="4.0"/><circle cx="1056.40" cy="267.00" r="4.0"/><circle cx="1068.80" cy="265.20" r="4.0"/><circle cx="1093.30" cy="300.90" r="4.0"/><circle cx="1103.60" cy="300.10" r="4.0"/><circle cx="1131.40" cy="185.60" r="4.0"/><circle cx="1143.90" cy="235.70" r="4.0"/><circle cx="1155.10" cy="181.90" r="4.0"/><circle cx="1166.00" cy="248.60" r="4.0"/><circle cx="1178.70" cy="264.30" r="4.0"/><circle cx="1191.20" cy="269.80" r="4.0"/><circle cx="1208.80" cy="342.90" r="4.0"/><circle cx="1221.30" cy="296.40" r="4.0"/><circle cx="1233.70" cy="296.10" r="4.0"/><circle cx="1253.60" cy="274.70" r="4.0"/><circle cx="1266.30" cy="282.90" r="4.0"/></g>
</g>
<g stroke="#80ff80" fill="#80ff80">
<polyline points="480.95,689.66 516.80,688.58 532.50,686.67 551.60,687.22 564.80,687.49 575.00,685.31 586.20,688.58 596.40,690.75 606.40,685.86 618.60,684.34 630.00,687.22 641.20,686.24 653.40,688.14 664.90,683.85 674.90,689.12 685.10,686.73 694.90,690.97 705.30,688.58 715.30,688.03 725.30,688.03 735.50,690.04 745.90,689.12 755.90,690.97 765.80,692.38 781.50,690.04 792.90,693.36 807.10,693.36 820.80,687.49 831.00,688.03 842.00,691.29 860.90,690.75 871.10,692.93 884.90,691.67 896.10,693.58 1032.80,688.36 1046.00,688.36 1056.40,685.97 1068.80,688.36 1093.30,688.36 1103.60,688.79 1131.40,682.65 1143.90,686.46 1155.10,679.82 1166.00,687.38 1178.70,687.87 1191.20,689.28 1208.80,692.60 1221.30,687.87 1233.70,688.36 1253.60,689.66 1266.30,688.36" fill="none" stroke-width="3.2" stroke-linejoin="round" stroke-linecap="butt"/>
<g stroke="none"><circle cx="480.95" cy="689.66" r="4.0"/><circle cx="516.80" cy="688.58" r="4.0"/><circle cx="532.50" cy="686.67" r="4.0"/><circle cx="551.60" cy="687.22" r="4.0"/><circle cx="564.80" cy="687.49" r="4.0"/><circle cx="575.00" cy="685.31" r="4.0"/><circle cx="586.20" cy="688.58" r="4.0"/><circle cx="596.40" cy="690.75" r="4.0"/><circle cx="606.40" cy="685.86" r="4.0"/><circle cx="618.60" cy="684.34" r="4.0"/><circle cx="630.00" cy="687.22" r="4.0"/><circle cx="641.20" cy="686.24" r="4.0"/><circle cx="653.40" cy="688.14" r="4.0"/><circle cx="664.90" cy="683.85" r="4.0"/><circle cx="674.90" cy="689.12" r="4.0"/><circle cx="685.10" cy="686.73" r="4.0"/><circle cx="694.90" cy="690.97" r="4.0"/><circle cx="705.30" cy="688.58" r="4.0"/><circle cx="715.30" cy="688.03" r="4.0"/><circle cx="725.30" cy="688.03" r="4.0"/><circle cx="735.50" cy="690.04" r="4.0"/><circle cx="745.90" cy="689.12" r="4.0"/><circle cx="755.90" cy="690.97" r="4.0"/><circle cx="765.80" cy="692.38" r="4.0"/><circle cx="781.50" cy="690.04" r="4.0"/><circle cx="792.90" cy="693.36" r="4.0"/><circle cx="807.10" cy="693.36" r="4.0"/><circle cx="820.80" cy="687.49" r="4.0"/><circle cx="831.00" cy="688.03" r="4.0"/><circle cx="842.00" cy="691.29" r="4.0"/><circle cx="860.90" cy="690.75" r="4.0"/><circle cx="871.10" cy="692.93" r="4.0"/><circle cx="884.90" cy="691.67" r="4.0"/><circle cx="896.10" cy="693.58" r="4.0"/><circle cx="1032.80" cy="688.36" r="4.0"/><circle cx="1046.00" cy="688.36" r="4.0"/><circle cx="1056.40" cy="685.97" r="4.0"/><circle cx="1068.80" cy="688.36" r="4.0"/><circle cx="1093.30" cy="688.36" r="4.0"/><circle cx="1103.60" cy="688.79" r="4.0"/><circle cx="1131.40" cy="682.65" r="4.0"/><circle cx="1143.90" cy="686.46" r="4.0"/><circle cx="1155.10" cy="679.82" r="4.0"/><circle cx="1166.00" cy="687.38" r="4.0"/><circle cx="1178.70" cy="687.87" r="4.0"/><circle cx="1191.20" cy="689.28" r="4.0"/><circle cx="1208.80" cy="692.60" r="4.0"/><circle cx="1221.30" cy="687.87" r="4.0"/><circle cx="1233.70" cy="688.36" r="4.0"/><circle cx="1253.60" cy="689.66" r="4.0"/><circle cx="1266.30" cy="688.36" r="4.0"/></g>
</g>
<g stroke="#b0b0b0" fill="#b0b0b0">
<polyline points="480.95,699.99 516.80,700.54 532.50,695.10 551.60,696.73 564.80,697.00 575.00,697.82 586.20,701.08 596.40,701.08 606.40,698.09 618.60,694.77 630.00,699.50 641.20,700.92 653.40,701.41 664.90,701.89 674.90,700.92 685.10,695.10 694.90,695.10 705.30,698.52 715.30,694.77 725.30,699.99 735.50,700.54 745.90,698.52 755.90,699.99 765.80,699.99 781.50,697.60 792.90,698.52 807.10,699.01 820.80,693.20 831.00,695.37 842.00,691.67 860.90,693.09 871.10,695.48 884.90,695.48 896.10,698.09 1032.80,691.84 1046.00,694.01 1056.40,696.89 1068.80,694.56 1093.30,697.33 1103.60,696.40 1131.40,687.87 1143.90,691.19 1155.10,691.84 1166.00,694.56 1178.70,693.09 1191.20,693.58 1208.80,695.91 1221.30,694.01 1233.70,694.56 1253.60,689.28 1266.30,692.60" fill="none" stroke-width="3.2" stroke-linejoin="round" stroke-linecap="butt"/>
<g stroke="none"><circle cx="480.95" cy="699.99" r="4.0"/><circle cx="516.80" cy="700.54" r="4.0"/><circle cx="532.50" cy="695.10" r="4.0"/><circle cx="551.60" cy="696.73" r="4.0"/><circle cx="564.80" cy="697.00" r="4.0"/><circle cx="575.00" cy="697.82" r="4.0"/><circle cx="586.20" cy="701.08" r="4.0"/><circle cx="596.40" cy="701.08" r="4.0"/><circle cx="606.40" cy="698.09" r="4.0"/><circle cx="618.60" cy="694.77" r="4.0"/><circle cx="630.00" cy="699.50" r="4.0"/><circle cx="641.20" cy="700.92" r="4.0"/><circle cx="653.40" cy="701.41" r="4.0"/><circle cx="664.90" cy="701.89" r="4.0"/><circle cx="674.90" cy="700.92" r="4.0"/><circle cx="685.10" cy="695.10" r="4.0"/><circle cx="694.90" cy="695.10" r="4.0"/><circle cx="705.30" cy="698.52" r="4.0"/><circle cx="715.30" cy="694.77" r="4.0"/><circle cx="725.30" cy="699.99" r="4.0"/><circle cx="735.50" cy="700.54" r="4.0"/><circle cx="745.90" cy="698.52" r="4.0"/><circle cx="755.90" cy="699.99" r="4.0"/><circle cx="765.80" cy="699.99" r="4.0"/><circle cx="781.50" cy="697.60" r="4.0"/><circle cx="792.90" cy="698.52" r="4.0"/><circle cx="807.10" cy="699.01" r="4.0"/><circle cx="820.80" cy="693.20" r="4.0"/><circle cx="831.00" cy="695.37" r="4.0"/><circle cx="842.00" cy="691.67" r="4.0"/><circle cx="860.90" cy="693.09" r="4.0"/><circle cx="871.10" cy="695.48" r="4.0"/><circle cx="884.90" cy="695.48" r="4.0"/><circle cx="896.10" cy="698.09" r="4.0"/><circle cx="1032.80" cy="691.84" r="4.0"/><circle cx="1046.00" cy="694.01" r="4.0"/><circle cx="1056.40" cy="696.89" r="4.0"/><circle cx="1068.80" cy="694.56" r="4.0"/><circle cx="1093.30" cy="697.33" r="4.0"/><circle cx="1103.60" cy="696.40" r="4.0"/><circle cx="1131.40" cy="687.87" r="4.0"/><circle cx="1143.90" cy="691.19" r="4.0"/><circle cx="1155.10" cy="691.84" r="4.0"/><circle cx="1166.00" cy="694.56" r="4.0"/><circle cx="1178.70" cy="693.09" r="4.0"/><circle cx="1191.20" cy="693.58" r="4.0"/><circle cx="1208.80" cy="695.91" r="4.0"/><circle cx="1221.30" cy="694.01" r="4.0"/><circle cx="1233.70" cy="694.56" r="4.0"/><circle cx="1253.60" cy="689.28" r="4.0"/><circle cx="1266.30" cy="692.60" r="4.0"/></g>
</g>
<g stroke="#03036e" fill="#03036e">
<polyline points="480.95,695.10 516.80,697.82 532.50,698.90 551.60,699.45 564.80,699.99 575.00,698.90 586.20,700.54 596.40,701.62 606.40,702.17 618.60,702.33 630.00,703.25 641.20,697.27 653.40,702.17 664.90,697.27 674.90,702.17 685.10,702.71 694.90,703.25 705.30,703.80 715.30,703.80 725.30,695.70 735.50,696.68 745.90,702.71 755.90,702.71 765.80,703.25 781.50,702.17 792.90,702.98 807.10,702.98 820.80,700.54 831.00,700.54 842.00,698.09 860.90,696.89 871.10,699.99 884.90,701.35 896.10,701.62 1032.80,698.90 1046.00,699.72 1056.40,701.62 1068.80,701.62 1093.30,702.55 1103.60,702.55 1131.40,696.40 1143.90,696.89 1155.10,699.23 1166.00,701.13 1178.70,699.23 1191.20,700.70 1208.80,702.11 1221.30,702.71 1233.70,701.13 1253.60,698.31 1266.30,699.72" fill="none" stroke-width="3.2" stroke-linejoin="round" stroke-linecap="butt"/>
<g stroke="none"><circle cx="480.95" cy="695.10" r="4.0"/><circle cx="516.80" cy="697.82" r="4.0"/><circle cx="532.50" cy="698.90" r="4.0"/><circle cx="551.60" cy="699.45" r="4.0"/><circle cx="564.80" cy="699.99" r="4.0"/><circle cx="575.00" cy="698.90" r="4.0"/><circle cx="586.20" cy="700.54" r="4.0"/><circle cx="596.40" cy="701.62" r="4.0"/><circle cx="606.40" cy="702.17" r="4.0"/><circle cx="618.60" cy="702.33" r="4.0"/><circle cx="630.00" cy="703.25" r="4.0"/><circle cx="641.20" cy="697.27" r="4.0"/><circle cx="653.40" cy="702.17" r="4.0"/><circle cx="664.90" cy="697.27" r="4.0"/><circle cx="674.90" cy="702.17" r="4.0"/><circle cx="685.10" cy="702.71" r="4.0"/><circle cx="694.90" cy="703.25" r="4.0"/><circle cx="705.30" cy="703.80" r="4.0"/><circle cx="715.30" cy="703.80" r="4.0"/><circle cx="725.30" cy="695.70" r="4.0"/><circle cx="735.50" cy="696.68" r="4.0"/><circle cx="745.90" cy="702.71" r="4.0"/><circle cx="755.90" cy="702.71" r="4.0"/><circle cx="765.80" cy="703.25" r="4.0"/><circle cx="781.50" cy="702.17" r="4.0"/><circle cx="792.90" cy="702.98" r="4.0"/><circle cx="807.10" cy="702.98" r="4.0"/><circle cx="820.80" cy="700.54" r="4.0"/><circle cx="831.00" cy="700.54" r="4.0"/><circle cx="842.00" cy="698.09" r="4.0"/><circle cx="860.90" cy="696.89" r="4.0"/><circle cx="871.10" cy="699.99" r="4.0"/><circle cx="884.90" cy="701.35" r="4.0"/><circle cx="896.10" cy="701.62" r="4.0"/><circle cx="1032.80" cy="698.90" r="4.0"/><circle cx="1046.00" cy="699.72" r="4.0"/><circle cx="1056.40" cy="701.62" r="4.0"/><circle cx="1068.80" cy="701.62" r="4.0"/><circle cx="1093.30" cy="702.55" r="4.0"/><circle cx="1103.60" cy="702.55" r="4.0"/><circle cx="1131.40" cy="696.40" r="4.0"/><circle cx="1143.90" cy="696.89" r="4.0"/><circle cx="1155.10" cy="699.23" r="4.0"/><circle cx="1166.00" cy="701.13" r="4.0"/><circle cx="1178.70" cy="699.23" r="4.0"/><circle cx="1191.20" cy="700.70" r="4.0"/><circle cx="1208.80" cy="702.11" r="4.0"/><circle cx="1221.30" cy="702.71" r="4.0"/><circle cx="1233.70" cy="701.13" r="4.0"/><circle cx="1253.60" cy="698.31" r="4.0"/><circle cx="1266.30" cy="699.72" r="4.0"/></g>
</g>
<g stroke="#72ffd0" fill="#72ffd0">
<polyline points="480.95,699.99 516.80,700.54 532.50,698.63 551.60,701.08 564.80,701.08 575.00,697.82 586.20,701.08 596.40,701.08 606.40,698.09 618.60,699.50 630.00,699.50 641.20,700.92 653.40,701.41 664.90,701.89 674.90,700.92 685.10,699.01 694.90,701.89 705.30,698.52 715.30,699.18 725.30,699.99 735.50,700.54 745.90,698.52 755.90,699.99 765.80,699.99 781.50,697.60 792.90,698.52 807.10,699.01 820.80,693.20 831.00,695.37 842.00,691.67 860.90,693.09 871.10,695.48 884.90,695.48 896.10,698.09 1032.80,691.84 1046.00,694.01 1056.40,696.89 1068.80,694.56 1093.30,697.33 1103.60,696.40 1131.40,687.87 1143.90,691.19 1155.10,691.84 1166.00,694.56 1178.70,693.09 1191.20,693.58 1208.80,695.91 1221.30,694.01 1233.70,694.56 1253.60,689.28 1266.30,692.60" fill="none" stroke-width="3.2" stroke-linejoin="round" stroke-linecap="butt"/>
<g stroke="none"><circle cx="480.95" cy="699.99" r="4.0"/><circle cx="516.80" cy="700.54" r="4.0"/><circle cx="532.50" cy="698.63" r="4.0"/><circle cx="551.60" cy="701.08" r="4.0"/><circle cx="564.80" cy="701.08" r="4.0"/><circle cx="575.00" cy="697.82" r="4.0"/><circle cx="586.20" cy="701.08" r="4.0"/><circle cx="596.40" cy="701.08" r="4.0"/><circle cx="606.40" cy="698.09" r="4.0"/><circle cx="618.60" cy="699.50" r="4.0"/><circle cx="630.00" cy="699.50" r="4.0"/><circle cx="641.20" cy="700.92" r="4.0"/><circle cx="653.40" cy="701.41" r="4.0"/><circle cx="664.90" cy="701.89" r="4.0"/><circle cx="674.90" cy="700.92" r="4.0"/><circle cx="685.10" cy="699.01" r="4.0"/><circle cx="694.90" cy="701.89" r="4.0"/><circle cx="705.30" cy="698.52" r="4.0"/><circle cx="715.30" cy="699.18" r="4.0"/><circle cx="725.30" cy="699.99" r="4.0"/><circle cx="735.50" cy="700.54" r="4.0"/><circle cx="745.90" cy="698.52" r="4.0"/><circle cx="755.90" cy="699.99" r="4.0"/><circle cx="765.80" cy="699.99" r="4.0"/><circle cx="781.50" cy="697.60" r="4.0"/><circle cx="792.90" cy="698.52" r="4.0"/><circle cx="807.10" cy="699.01" r="4.0"/><circle cx="820.80" cy="693.20" r="4.0"/><circle cx="831.00" cy="695.37" r="4.0"/><circle cx="842.00" cy="691.67" r="4.0"/><circle cx="860.90" cy="693.09" r="4.0"/><circle cx="871.10" cy="695.48" r="4.0"/><circle cx="884.90" cy="695.48" r="4.0"/><circle cx="896.10" cy="698.09" r="4.0"/><circle cx="1032.80" cy="691.84" r="4.0"/><circle cx="1046.00" cy="694.01" r="4.0"/><circle cx="1056.40" cy="696.89" r="4.0"/><circle cx="1068.80" cy="694.56" r="4.0"/><circle cx="1093.30" cy="697.33" r="4.0"/><circle cx="1103.60" cy="696.40" r="4.0"/><circle cx="1131.40" cy="687.87" r="4.0"/><circle cx="1143.90" cy="691.19" r="4.0"/><circle cx="1155.10" cy="691.84" r="4.0"/><circle cx="1166.00" cy="694.56" r="4.0"/><circle cx="1178.70" cy="693.09" r="4.0"/><circle cx="1191.20" cy="693.58" r="4.0"/><circle cx="1208.80" cy="695.91" r="4.0"/><circle cx="1221.30" cy="694.01" r="4.0"/><circle cx="1233.70" cy="694.56" r="4.0"/><circle cx="1253.60" cy="689.28" r="4.0"/><circle cx="1266.30" cy="692.60" r="4.0"/></g>
</g>
<g stroke="#d78ddc" fill="#d78ddc">
<polyline points="480.95,663.03 516.80,668.19 532.50,659.22 551.60,662.48 564.80,669.01 575.00,661.12 586.20,669.01 596.40,667.65 606.40,666.29 618.60,657.81 630.00,662.48 641.20,660.85 653.40,665.20 664.90,670.09 674.90,668.19 685.10,664.66 694.90,672.00 705.30,663.03 715.30,662.48 725.30,668.19 735.50,660.64 745.90,667.76 755.90,672.49 765.80,676.78 781.50,660.64 792.90,667.27 807.10,664.44 820.80,657.21 831.00,656.50 842.00,652.16 860.90,651.83 871.10,657.59 884.90,661.61 896.10,659.77 1032.80,663.41 1046.00,667.00 1056.40,667.97 1068.80,661.78 1093.30,670.31 1103.60,676.51 1131.40,658.95 1143.90,668.46 1155.10,664.11 1166.00,672.27 1178.70,670.31 1191.20,673.19 1208.80,677.92 1221.30,672.27 1233.70,673.19 1253.60,671.78 1266.30,671.78" fill="none" stroke-width="3.2" stroke-linejoin="round" stroke-linecap="butt"/>
<g stroke="none"><circle cx="480.95" cy="663.03" r="4.0"/><circle cx="516.80" cy="668.19" r="4.0"/><circle cx="532.50" cy="659.22" r="4.0"/><circle cx="551.60" cy="662.48" r="4.0"/><circle cx="564.80" cy="669.01" r="4.0"/><circle cx="575.00" cy="661.12" r="4.0"/><circle cx="586.20" cy="669.01" r="4.0"/><circle cx="596.40" cy="667.65" r="4.0"/><circle cx="606.40" cy="666.29" r="4.0"/><circle cx="618.60" cy="657.81" r="4.0"/><circle cx="630.00" cy="662.48" r="4.0"/><circle cx="641.20" cy="660.85" r="4.0"/><circle cx="653.40" cy="665.20" r="4.0"/><circle cx="664.90" cy="670.09" r="4.0"/><circle cx="674.90" cy="668.19" r="4.0"/><circle cx="685.10" cy="664.66" r="4.0"/><circle cx="694.90" cy="672.00" r="4.0"/><circle cx="705.30" cy="663.03" r="4.0"/><circle cx="715.30" cy="662.48" r="4.0"/><circle cx="725.30" cy="668.19" r="4.0"/><circle cx="735.50" cy="660.64" r="4.0"/><circle cx="745.90" cy="667.76" r="4.0"/><circle cx="755.90" cy="672.49" r="4.0"/><circle cx="765.80" cy="676.78" r="4.0"/><circle cx="781.50" cy="660.64" r="4.0"/><circle cx="792.90" cy="667.27" r="4.0"/><circle cx="807.10" cy="664.44" r="4.0"/><circle cx="820.80" cy="657.21" r="4.0"/><circle cx="831.00" cy="656.50" r="4.0"/><circle cx="842.00" cy="652.16" r="4.0"/><circle cx="860.90" cy="651.83" r="4.0"/><circle cx="871.10" cy="657.59" r="4.0"/><circle cx="884.90" cy="661.61" r="4.0"/><circle cx="896.10" cy="659.77" r="4.0"/><circle cx="1032.80" cy="663.41" r="4.0"/><circle cx="1046.00" cy="667.00" r="4.0"/><circle cx="1056.40" cy="667.97" r="4.0"/><circle cx="1068.80" cy="661.78" r="4.0"/><circle cx="1093.30" cy="670.31" r="4.0"/><circle cx="1103.60" cy="676.51" r="4.0"/><circle cx="1131.40" cy="658.95" r="4.0"/><circle cx="1143.90" cy="668.46" r="4.0"/><circle cx="1155.10" cy="664.11" r="4.0"/><circle cx="1166.00" cy="672.27" r="4.0"/><circle cx="1178.70" cy="670.31" r="4.0"/><circle cx="1191.20" cy="673.19" r="4.0"/><circle cx="1208.80" cy="677.92" r="4.0"/><circle cx="1221.30" cy="672.27" r="4.0"/><circle cx="1233.70" cy="673.19" r="4.0"/><circle cx="1253.60" cy="671.78" r="4.0"/><circle cx="1266.30" cy="671.78" r="4.0"/></g>
</g>
<g stroke="#efe07a" fill="#efe07a">
<polyline points="480.95,707.98 516.80,707.98 532.50,707.60 551.60,706.24 564.80,705.97 575.00,705.97 586.20,705.43 596.40,705.43 606.40,705.97 618.60,706.52 630.00,706.52 641.20,706.52 653.40,706.52 664.90,705.43 674.90,705.97 685.10,706.52 694.90,706.52 705.30,706.52 715.30,706.52 725.30,706.52 735.50,706.52 745.90,706.52 755.90,706.52 765.80,706.52 781.50,706.52 792.90,706.52 807.10,706.52 820.80,706.52 831.00,706.52 842.00,707.06 860.90,707.06 871.10,706.52 884.90,706.52 896.10,706.52 1032.80,703.53 1046.00,705.43 1056.40,704.88 1068.80,702.55 1093.30,705.70 1103.60,705.43 1131.40,705.43 1143.90,705.43 1155.10,703.53 1166.00,705.43 1178.70,705.43 1191.20,705.97 1208.80,706.52 1221.30,705.97 1233.70,705.97 1253.60,705.43 1266.30,705.43" fill="none" stroke-width="3.2" stroke-linejoin="round" stroke-linecap="butt"/>
<g stroke="none"><circle cx="480.95" cy="707.98" r="4.0"/><circle cx="516.80" cy="707.98" r="4.0"/><circle cx="532.50" cy="707.60" r="4.0"/><circle cx="551.60" cy="706.24" r="4.0"/><circle cx="564.80" cy="705.97" r="4.0"/><circle cx="575.00" cy="705.97" r="4.0"/><circle cx="586.20" cy="705.43" r="4.0"/><circle cx="596.40" cy="705.43" r="4.0"/><circle cx="606.40" cy="705.97" r="4.0"/><circle cx="618.60" cy="706.52" r="4.0"/><circle cx="630.00" cy="706.52" r="4.0"/><circle cx="641.20" cy="706.52" r="4.0"/><circle cx="653.40" cy="706.52" r="4.0"/><circle cx="664.90" cy="705.43" r="4.0"/><circle cx="674.90" cy="705.97" r="4.0"/><circle cx="685.10" cy="706.52" r="4.0"/><circle cx="694.90" cy="706.52" r="4.0"/><circle cx="705.30" cy="706.52" r="4.0"/><circle cx="715.30" cy="706.52" r="4.0"/><circle cx="725.30" cy="706.52" r="4.0"/><circle cx="735.50" cy="706.52" r="4.0"/><circle cx="745.90" cy="706.52" r="4.0"/><circle cx="755.90" cy="706.52" r="4.0"/><circle cx="765.80" cy="706.52" r="4.0"/><circle cx="781.50" cy="706.52" r="4.0"/><circle cx="792.90" cy="706.52" r="4.0"/><circle cx="807.10" cy="706.52" r="4.0"/><circle cx="820.80" cy="706.52" r="4.0"/><circle cx="831.00" cy="706.52" r="4.0"/><circle cx="842.00" cy="707.06" r="4.0"/><circle cx="860.90" cy="707.06" r="4.0"/><circle cx="871.10" cy="706.52" r="4.0"/><circle cx="884.90" cy="706.52" r="4.0"/><circle cx="896.10" cy="706.52" r="4.0"/><circle cx="1032.80" cy="703.53" r="4.0"/><circle cx="1046.00" cy="705.43" r="4.0"/><circle cx="1056.40" cy="704.88" r="4.0"/><circle cx="1068.80" cy="702.55" r="4.0"/><circle cx="1093.30" cy="705.70" r="4.0"/><circle cx="1103.60" cy="705.43" r="4.0"/><circle cx="1131.40" cy="705.43" r="4.0"/><circle cx="1143.90" cy="705.43" r="4.0"/><circle cx="1155.10" cy="703.53" r="4.0"/><circle cx="1166.00" cy="705.43" r="4.0"/><circle cx="1178.70" cy="705.43" r="4.0"/><circle cx="1191.20" cy="705.97" r="4.0"/><circle cx="1208.80" cy="706.52" r="4.0"/><circle cx="1221.30" cy="705.97" r="4.0"/><circle cx="1233.70" cy="705.97" r="4.0"/><circle cx="1253.60" cy="705.43" r="4.0"/><circle cx="1266.30" cy="705.43" r="4.0"/></g>
</g>
<line x1="1226.0" y1="712.5" x2="1249.5" y2="712.5" stroke="#80ff80" stroke-width="3.2"/>
<g stroke="#d3d3d3" fill="#d3d3d3">
<polyline points="480.95,709.23 516.80,709.23 532.50,709.23 551.60,709.23 564.80,709.23 575.00,708.69 586.20,708.69 596.40,708.69 606.40,708.15 618.60,708.15 630.00,708.15 641.20,708.15 653.40,708.15 664.90,708.15 674.90,707.06 685.10,707.60 694.90,707.60 705.30,707.60 715.30,707.60 725.30,707.60 735.50,707.60 745.90,707.60 755.90,707.60 765.80,706.52 781.50,704.34 792.90,705.97 807.10,706.52 820.80,706.52 831.00,705.97 842.00,704.50 860.90,705.97 871.10,704.07 884.90,705.97 896.10,705.92 1032.80,707.06 1046.00,705.97 1056.40,704.50 1068.80,705.97 1093.30,706.52 1103.60,706.52 1131.40,705.43 1143.90,700.70 1155.10,703.80 1166.00,705.43 1178.70,705.97 1191.20,705.97 1208.80,706.52 1221.30,705.43 1233.70,704.50 1253.60,704.50 1266.30,704.88" fill="none" stroke-width="3.2" stroke-linejoin="round" stroke-linecap="butt"/>
<g stroke="none"><circle cx="480.95" cy="709.23" r="4.0"/><circle cx="516.80" cy="709.23" r="4.0"/><circle cx="532.50" cy="709.23" r="4.0"/><circle cx="551.60" cy="709.23" r="4.0"/><circle cx="564.80" cy="709.23" r="4.0"/><circle cx="575.00" cy="708.69" r="4.0"/><circle cx="586.20" cy="708.69" r="4.0"/><circle cx="596.40" cy="708.69" r="4.0"/><circle cx="606.40" cy="708.15" r="4.0"/><circle cx="618.60" cy="708.15" r="4.0"/><circle cx="630.00" cy="708.15" r="4.0"/><circle cx="641.20" cy="708.15" r="4.0"/><circle cx="653.40" cy="708.15" r="4.0"/><circle cx="664.90" cy="708.15" r="4.0"/><circle cx="674.90" cy="707.06" r="4.0"/><circle cx="685.10" cy="707.60" r="4.0"/><circle cx="694.90" cy="707.60" r="4.0"/><circle cx="705.30" cy="707.60" r="4.0"/><circle cx="715.30" cy="707.60" r="4.0"/><circle cx="725.30" cy="707.60" r="4.0"/><circle cx="735.50" cy="707.60" r="4.0"/><circle cx="745.90" cy="707.60" r="4.0"/><circle cx="755.90" cy="707.60" r="4.0"/><circle cx="765.80" cy="706.52" r="4.0"/><circle cx="781.50" cy="704.34" r="4.0"/><circle cx="792.90" cy="705.97" r="4.0"/><circle cx="807.10" cy="706.52" r="4.0"/><circle cx="820.80" cy="706.52" r="4.0"/><circle cx="831.00" cy="705.97" r="4.0"/><circle cx="842.00" cy="704.50" r="4.0"/><circle cx="860.90" cy="705.97" r="4.0"/><circle cx="871.10" cy="704.07" r="4.0"/><circle cx="884.90" cy="705.97" r="4.0"/><circle cx="896.10" cy="705.92" r="4.0"/><circle cx="1032.80" cy="707.06" r="4.0"/><circle cx="1046.00" cy="705.97" r="4.0"/><circle cx="1056.40" cy="704.50" r="4.0"/><circle cx="1068.80" cy="705.97" r="4.0"/><circle cx="1093.30" cy="706.52" r="4.0"/><circle cx="1103.60" cy="706.52" r="4.0"/><circle cx="1131.40" cy="705.43" r="4.0"/><circle cx="1143.90" cy="700.70" r="4.0"/><circle cx="1155.10" cy="703.80" r="4.0"/><circle cx="1166.00" cy="705.43" r="4.0"/><circle cx="1178.70" cy="705.97" r="4.0"/><circle cx="1191.20" cy="705.97" r="4.0"/><circle cx="1208.80" cy="706.52" r="4.0"/><circle cx="1221.30" cy="705.43" r="4.0"/><circle cx="1233.70" cy="704.50" r="4.0"/><circle cx="1253.60" cy="704.50" r="4.0"/><circle cx="1266.30" cy="704.88" r="4.0"/></g>
</g>
<g stroke="#707070" fill="#707070">
<polyline points="480.95,709.18 516.80,709.18 532.50,708.69 551.60,711.41 564.80,711.41 575.00,710.86 586.20,711.14 596.40,710.86 606.40,707.33 618.60,707.33 630.00,707.33 641.20,707.33 653.40,707.33 664.90,706.62 674.90,704.23 685.10,706.52 694.90,706.62 705.30,706.62 715.30,705.21 725.30,705.21 735.50,705.70 745.90,705.21 755.90,705.43 765.80,703.80 781.50,706.79 792.90,707.60 807.10,707.60 820.80,707.60 831.00,707.06 842.00,707.82 860.90,706.41 871.10,708.15 884.90,707.33 896.10,708.15 1032.80,709.40 1046.00,706.52 1056.40,707.60 1068.80,705.70 1093.30,707.06 1103.60,704.50 1131.40,704.50 1143.90,705.43 1155.10,706.24 1166.00,707.06 1178.70,704.50 1191.20,704.88 1208.80,708.15 1221.30,706.24 1233.70,707.06 1253.60,704.88 1266.30,705.43" fill="none" stroke-width="3.2" stroke-linejoin="round" stroke-linecap="butt"/>
<g stroke="none"><circle cx="480.95" cy="709.18" r="4.0"/><circle cx="516.80" cy="709.18" r="4.0"/><circle cx="532.50" cy="708.69" r="4.0"/><circle cx="551.60" cy="711.41" r="4.0"/><circle cx="564.80" cy="711.41" r="4.0"/><circle cx="575.00" cy="710.86" r="4.0"/><circle cx="586.20" cy="711.14" r="4.0"/><circle cx="596.40" cy="710.86" r="4.0"/><circle cx="606.40" cy="707.33" r="4.0"/><circle cx="618.60" cy="707.33" r="4.0"/><circle cx="630.00" cy="707.33" r="4.0"/><circle cx="641.20" cy="707.33" r="4.0"/><circle cx="653.40" cy="707.33" r="4.0"/><circle cx="664.90" cy="706.62" r="4.0"/><circle cx="674.90" cy="704.23" r="4.0"/><circle cx="685.10" cy="706.52" r="4.0"/><circle cx="694.90" cy="706.62" r="4.0"/><circle cx="705.30" cy="706.62" r="4.0"/><circle cx="715.30" cy="705.21" r="4.0"/><circle cx="725.30" cy="705.21" r="4.0"/><circle cx="735.50" cy="705.70" r="4.0"/><circle cx="745.90" cy="705.21" r="4.0"/><circle cx="755.90" cy="705.43" r="4.0"/><circle cx="765.80" cy="703.80" r="4.0"/><circle cx="781.50" cy="706.79" r="4.0"/><circle cx="792.90" cy="707.60" r="4.0"/><circle cx="807.10" cy="707.60" r="4.0"/><circle cx="820.80" cy="707.60" r="4.0"/><circle cx="831.00" cy="707.06" r="4.0"/><circle cx="842.00" cy="707.82" r="4.0"/><circle cx="860.90" cy="706.41" r="4.0"/><circle cx="871.10" cy="708.15" r="4.0"/><circle cx="884.90" cy="707.33" r="4.0"/><circle cx="896.10" cy="708.15" r="4.0"/><circle cx="1032.80" cy="709.40" r="4.0"/><circle cx="1046.00" cy="706.52" r="4.0"/><circle cx="1056.40" cy="707.60" r="4.0"/><circle cx="1068.80" cy="705.70" r="4.0"/><circle cx="1093.30" cy="707.06" r="4.0"/><circle cx="1103.60" cy="704.50" r="4.0"/><circle cx="1131.40" cy="704.50" r="4.0"/><circle cx="1143.90" cy="705.43" r="4.0"/><circle cx="1155.10" cy="706.24" r="4.0"/><circle cx="1166.00" cy="707.06" r="4.0"/><circle cx="1178.70" cy="704.50" r="4.0"/><circle cx="1191.20" cy="704.88" r="4.0"/><circle cx="1208.80" cy="708.15" r="4.0"/><circle cx="1221.30" cy="706.24" r="4.0"/><circle cx="1233.70" cy="707.06" r="4.0"/><circle cx="1253.60" cy="704.88" r="4.0"/><circle cx="1266.30" cy="705.43" r="4.0"/></g>
</g>
<g stroke="#d8d8fa" fill="#d8d8fa">
<polyline points="480.95,712.49 516.80,712.66 532.50,712.49 551.60,711.41 564.80,711.41 575.00,710.86 586.20,711.14 596.40,710.86 606.40,710.32 618.60,710.86 630.00,710.59 641.20,710.86 653.40,711.14 664.90,710.32 674.90,710.86 685.10,710.86 694.90,710.59 705.30,710.86 715.30,710.43 725.30,710.86 735.50,710.59 745.90,710.43 755.90,710.86 765.80,710.43 781.50,710.86 792.90,710.86 807.10,710.59 820.80,711.08 831.00,710.86 842.00,711.08 860.90,710.86 871.10,711.08 884.90,710.86 896.10,711.95 1032.80,711.95 1046.00,710.86 1056.40,711.08 1068.80,709.78 1093.30,711.08 1103.60,711.08 1131.40,710.86 1143.90,711.08 1155.10,709.23 1166.00,710.86 1178.70,711.08 1191.20,710.32 1208.80,712.06 1221.30,710.32 1233.70,710.32 1253.60,711.08 1266.30,711.08" fill="none" stroke-width="3.2" stroke-linejoin="round" stroke-linecap="butt"/>
<g stroke="none"><circle cx="480.95" cy="712.49" r="4.0"/><circle cx="516.80" cy="712.66" r="4.0"/><circle cx="532.50" cy="712.49" r="4.0"/><circle cx="551.60" cy="711.41" r="4.0"/><circle cx="564.80" cy="711.41" r="4.0"/><circle cx="575.00" cy="710.86" r="4.0"/><circle cx="586.20" cy="711.14" r="4.0"/><circle cx="596.40" cy="710.86" r="4.0"/><circle cx="606.40" cy="710.32" r="4.0"/><circle cx="618.60" cy="710.86" r="4.0"/><circle cx="630.00" cy="710.59" r="4.0"/><circle cx="641.20" cy="710.86" r="4.0"/><circle cx="653.40" cy="711.14" r="4.0"/><circle cx="664.90" cy="710.32" r="4.0"/><circle cx="674.90" cy="710.86" r="4.0"/><circle cx="685.10" cy="710.86" r="4.0"/><circle cx="694.90" cy="710.59" r="4.0"/><circle cx="705.30" cy="710.86" r="4.0"/><circle cx="715.30" cy="710.43" r="4.0"/><circle cx="725.30" cy="710.86" r="4.0"/><circle cx="735.50" cy="710.59" r="4.0"/><circle cx="745.90" cy="710.43" r="4.0"/><circle cx="755.90" cy="710.86" r="4.0"/><circle cx="765.80" cy="710.43" r="4.0"/><circle cx="781.50" cy="710.86" r="4.0"/><circle cx="792.90" cy="710.86" r="4.0"/><circle cx="807.10" cy="710.59" r="4.0"/><circle cx="820.80" cy="711.08" r="4.0"/><circle cx="831.00" cy="710.86" r="4.0"/><circle cx="842.00" cy="711.08" r="4.0"/><circle cx="860.90" cy="710.86" r="4.0"/><circle cx="871.10" cy="711.08" r="4.0"/><circle cx="884.90" cy="710.86" r="4.0"/><circle cx="896.10" cy="711.95" r="4.0"/><circle cx="1032.80" cy="711.95" r="4.0"/><circle cx="1046.00" cy="710.86" r="4.0"/><circle cx="1056.40" cy="711.08" r="4.0"/><circle cx="1068.80" cy="709.78" r="4.0"/><circle cx="1093.30" cy="711.08" r="4.0"/><circle cx="1103.60" cy="711.08" r="4.0"/><circle cx="1131.40" cy="710.86" r="4.0"/><circle cx="1143.90" cy="711.08" r="4.0"/><circle cx="1155.10" cy="709.23" r="4.0"/><circle cx="1166.00" cy="710.86" r="4.0"/><circle cx="1178.70" cy="711.08" r="4.0"/><circle cx="1191.20" cy="710.32" r="4.0"/><circle cx="1208.80" cy="712.06" r="4.0"/><circle cx="1221.30" cy="710.32" r="4.0"/><circle cx="1233.70" cy="710.32" r="4.0"/><circle cx="1253.60" cy="711.08" r="4.0"/><circle cx="1266.30" cy="711.08" r="4.0"/></g>
</g>
</g>
<line x1="150.00" y1="742.60" x2="150.00" y2="735.30" stroke="#000" stroke-width="2.08"/>
<line x1="262.50" y1="742.60" x2="262.50" y2="736.60" stroke="#000" stroke-width="1.4"/>
<line x1="375.00" y1="742.60" x2="375.00" y2="735.30" stroke="#000" stroke-width="2.08"/>
<line x1="487.50" y1="742.60" x2="487.50" y2="736.60" stroke="#000" stroke-width="1.4"/>
<line x1="600.00" y1="742.60" x2="600.00" y2="735.30" stroke="#000" stroke-width="2.08"/>
<line x1="712.50" y1="742.60" x2="712.50" y2="736.60" stroke="#000" stroke-width="1.4"/>
<line x1="825.00" y1="742.60" x2="825.00" y2="735.30" stroke="#000" stroke-width="2.08"/>
<line x1="937.50" y1="742.60" x2="937.50" y2="736.60" stroke="#000" stroke-width="1.4"/>
<line x1="1050.00" y1="742.60" x2="1050.00" y2="735.30" stroke="#000" stroke-width="2.08"/>
<line x1="1162.50" y1="742.60" x2="1162.50" y2="736.60" stroke="#000" stroke-width="1.4"/>
<line x1="1275.00" y1="742.60" x2="1275.00" y2="735.30" stroke="#000" stroke-width="2.08"/>
<line x1="479.80" y1="118.20" x2="479.80" y2="125.50" stroke="#000" stroke-width="2.08"/>
<line x1="890.00" y1="118.20" x2="890.00" y2="125.50" stroke="#000" stroke-width="2.08"/>
<line x1="239.00" y1="118.20" x2="239.00" y2="124.20" stroke="#000" stroke-width="1.4"/>
<line x1="683.30" y1="118.20" x2="683.30" y2="124.20" stroke="#000" stroke-width="1.4"/>
<line x1="1093.80" y1="118.20" x2="1093.80" y2="124.20" stroke="#000" stroke-width="1.4"/>
<line x1="150.00" y1="716.30" x2="157.30" y2="716.30" stroke="#000" stroke-width="2.08"/>
<line x1="1275.00" y1="716.30" x2="1267.70" y2="716.30" stroke="#000" stroke-width="2.08"/>
<line x1="150.00" y1="607.58" x2="157.30" y2="607.58" stroke="#000" stroke-width="2.08"/>
<line x1="1275.00" y1="607.58" x2="1267.70" y2="607.58" stroke="#000" stroke-width="2.08"/>
<line x1="150.00" y1="498.86" x2="157.30" y2="498.86" stroke="#000" stroke-width="2.08"/>
<line x1="1275.00" y1="498.86" x2="1267.70" y2="498.86" stroke="#000" stroke-width="2.08"/>
<line x1="150.00" y1="390.14" x2="157.30" y2="390.14" stroke="#000" stroke-width="2.08"/>
<line x1="1275.00" y1="390.14" x2="1267.70" y2="390.14" stroke="#000" stroke-width="2.08"/>
<line x1="150.00" y1="281.42" x2="157.30" y2="281.42" stroke="#000" stroke-width="2.08"/>
<line x1="1275.00" y1="281.42" x2="1267.70" y2="281.42" stroke="#000" stroke-width="2.08"/>
<line x1="150.00" y1="172.70" x2="157.30" y2="172.70" stroke="#000" stroke-width="2.08"/>
<line x1="1275.00" y1="172.70" x2="1267.70" y2="172.70" stroke="#000" stroke-width="2.08"/>
<rect x="150.0" y="118.2" width="1125.0" height="624.4" fill="none" stroke="#000" stroke-width="2.08" stroke-linejoin="miter"/>
<text class="tk" x="150.00" y="769.1" text-anchor="middle">56000</text>
<text class="tk" x="375.00" y="769.1" text-anchor="middle">56200</text>
<text class="tk" x="600.00" y="769.1" text-anchor="middle">56400</text>
<text class="tk" x="825.00" y="769.1" text-anchor="middle">56600</text>
<text class="tk" x="1050.00" y="769.1" text-anchor="middle">56800</text>
<text class="tk" x="1275.00" y="769.1" text-anchor="middle">57000</text>
<text class="tk" x="142.7" y="726.10" text-anchor="end">0</text>
<text class="tk" x="142.7" y="617.38" text-anchor="end">20</text>
<text class="tk" x="142.7" y="508.66" text-anchor="end">40</text>
<text class="tk" x="142.7" y="399.94" text-anchor="end">60</text>
<text class="tk" x="142.7" y="291.22" text-anchor="end">80</text>
<text class="tk" x="142.7" y="182.50" text-anchor="end">100</text>
<text class="tk" x="479.8" y="105.2" text-anchor="middle">2013</text>
<text class="tk" x="890.0" y="105.2" text-anchor="middle">2014</text>
<text class="lb" x="712.5" y="817" text-anchor="middle">MJD [day]</text>
<text class="lb" transform="translate(68.4 426.1) rotate(-90)" text-anchor="middle">Flux density [Jy]</text>
<text class="tt" x="712.5" y="45.9" text-anchor="middle">10.323-0.160</text>
<rect x="1341.9" y="122.7" width="127.90" height="709.60" rx="4.2" ry="4.2" fill="#ffffff" fill-opacity="0.8" stroke="#cccccc" stroke-width="2.08"/>
<text class="lg" x="1352.9" y="146.7"><tspan font-style="italic">V</tspan><tspan dy="3.3" font-size="14.58px">lsr</tspan><tspan dy="-3.3" dx="1.1"> (km/s)</tspan></text>
<line x1="1350.4" y1="170.70" x2="1391.5" y2="170.70" stroke="#000000" stroke-width="3.2" stroke-linecap="square"/>
<circle cx="1370.65" cy="170.70" r="7.1" fill="#000000"/>
<text class="lg" x="1402.2" y="178.10">1.12</text>
<line x1="1350.4" y1="201.26" x2="1391.5" y2="201.26" stroke="#0000ff" stroke-width="3.2" stroke-linecap="square"/>
<circle cx="1370.65" cy="201.26" r="7.1" fill="#0000ff"/>
<text class="lg" x="1402.2" y="208.66">1.71</text>
<line x1="1350.4" y1="231.83" x2="1391.5" y2="231.83" stroke="#ff0000" stroke-width="3.2" stroke-linecap="square"/>
<circle cx="1370.65" cy="231.83" r="7.1" fill="#ff0000"/>
<text class="lg" x="1402.2" y="239.23">2.12</text>
<line x1="1350.4" y1="262.39" x2="1391.5" y2="262.39" stroke="#1a6e10" stroke-width="3.2" stroke-linecap="square"/>
<circle cx="1370.65" cy="262.39" r="7.1" fill="#1a6e10"/>
<text class="lg" x="1402.2" y="269.79">3.43</text>
<line x1="1350.4" y1="292.96" x2="1391.5" y2="292.96" stroke="#ffd314" stroke-width="3.2" stroke-linecap="square"/>
<circle cx="1370.65" cy="292.96" r="7.1" fill="#ffd314"/>
<text class="lg" x="1402.2" y="300.36">4.95</text>
<line x1="1350.4" y1="323.52" x2="1391.5" y2="323.52" stroke="#20b2aa" stroke-width="3.2" stroke-linecap="square"/>
<circle cx="1370.65" cy="323.52" r="7.1" fill="#20b2aa"/>
<text class="lg" x="1402.2" y="330.92">6.32</text>
<line x1="1350.4" y1="354.09" x2="1391.5" y2="354.09" stroke="#ad03b8" stroke-width="3.2" stroke-linecap="square"/>
<circle cx="1370.65" cy="354.09" r="7.1" fill="#ad03b8"/>
<text class="lg" x="1402.2" y="361.49">7.47</text>
<line x1="1350.4" y1="384.65" x2="1391.5" y2="384.65" stroke="#ff9010" stroke-width="3.2" stroke-linecap="square"/>
<circle cx="1370.65" cy="384.65" r="7.1" fill="#ff9010"/>
<text class="lg" x="1402.2" y="392.05">8.45</text>
<line x1="1350.4" y1="415.22" x2="1391.5" y2="415.22" stroke="#ffa6b6" stroke-width="3.2" stroke-linecap="square"/>
<circle cx="1370.65" cy="415.22" r="7.1" fill="#ffa6b6"/>
<text class="lg" x="1402.2" y="422.62">8.96</text>
<line x1="1350.4" y1="445.79" x2="1391.5" y2="445.79" stroke="#b4b80e" stroke-width="3.2" stroke-linecap="square"/>
<circle cx="1370.65" cy="445.79" r="7.1" fill="#b4b80e"/>
<text class="lg" x="1402.2" y="453.19">10.13</text>
<line x1="1350.4" y1="476.35" x2="1391.5" y2="476.35" stroke="#65758a" stroke-width="3.2" stroke-linecap="square"/>
<circle cx="1370.65" cy="476.35" r="7.1" fill="#65758a"/>
<text class="lg" x="1402.2" y="483.75">11.64</text>
<line x1="1350.4" y1="506.92" x2="1391.5" y2="506.92" stroke="#80ff80" stroke-width="3.2" stroke-linecap="square"/>
<circle cx="1370.65" cy="506.92" r="7.1" fill="#80ff80"/>
<text class="lg" x="1402.2" y="514.32">13.32</text>
<line x1="1350.4" y1="537.48" x2="1391.5" y2="537.48" stroke="#b0b0b0" stroke-width="3.2" stroke-linecap="square"/>
<circle cx="1370.65" cy="537.48" r="7.1" fill="#b0b0b0"/>
<text class="lg" x="1402.2" y="544.88">13.83</text>
<line x1="1350.4" y1="568.05" x2="1391.5" y2="568.05" stroke="#03036e" stroke-width="3.2" stroke-linecap="square"/>
<circle cx="1370.65" cy="568.05" r="7.1" fill="#03036e"/>
<text class="lg" x="1402.2" y="575.45">14.22</text>
<line x1="1350.4" y1="598.61" x2="1391.5" y2="598.61" stroke="#72ffd0" stroke-width="3.2" stroke-linecap="square"/>
<circle cx="1370.65" cy="598.61" r="7.1" fill="#72ffd0"/>
<text class="lg" x="1402.2" y="606.01">15.23</text>
<line x1="1350.4" y1="629.17" x2="1391.5" y2="629.17" stroke="#d78ddc" stroke-width="3.2" stroke-linecap="square"/>
<circle cx="1370.65" cy="629.17" r="7.1" fill="#d78ddc"/>
<text class="lg" x="1402.2" y="636.57">15.89</text>
<line x1="1350.4" y1="659.74" x2="1391.5" y2="659.74" stroke="#efe07a" stroke-width="3.2" stroke-linecap="square"/>
<circle cx="1370.65" cy="659.74" r="7.1" fill="#efe07a"/>
<text class="lg" x="1402.2" y="667.14">17.35</text>
<line x1="1350.4" y1="690.31" x2="1391.5" y2="690.31" stroke="#80ff80" stroke-width="3.2" stroke-linecap="square"/>
<circle cx="1370.65" cy="690.31" r="7.1" fill="#80ff80"/>
<text class="lg" x="1402.2" y="697.71">18.65</text>
<line x1="1350.4" y1="720.87" x2="1391.5" y2="720.87" stroke="#d3d3d3" stroke-width="3.2" stroke-linecap="square"/>
<circle cx="1370.65" cy="720.87" r="7.1" fill="#d3d3d3"/>
<text class="lg" x="1402.2" y="728.27">19.64</text>
<line x1="1350.4" y1="751.43" x2="1391.5" y2="751.43" stroke="#707070" stroke-width="3.2" stroke-linecap="square"/>
<circle cx="1370.65" cy="751.43" r="7.1" fill="#707070"/>
<text class="lg" x="1402.2" y="758.83">19.81</text>
<line x1="1350.4" y1="782.00" x2="1391.5" y2="782.00" stroke="#d8d8fa" stroke-width="3.2" stroke-linecap="square"/>
<circle cx="1370.65" cy="782.00" r="7.1" fill="#d8d8fa"/>
<text class="lg" x="1402.2" y="789.40">20.18</text>
<path d="M1361.6 805.4L1380.0 823.8000000000001M1361.6 823.8000000000001L1380.0 805.4" stroke="#777777" stroke-width="3.1" fill="none"/>
<text class="lg" x="1402.2" y="819.0">3 <tspan font-style="italic">σ</tspan></text>
</svg>
</body></html>
